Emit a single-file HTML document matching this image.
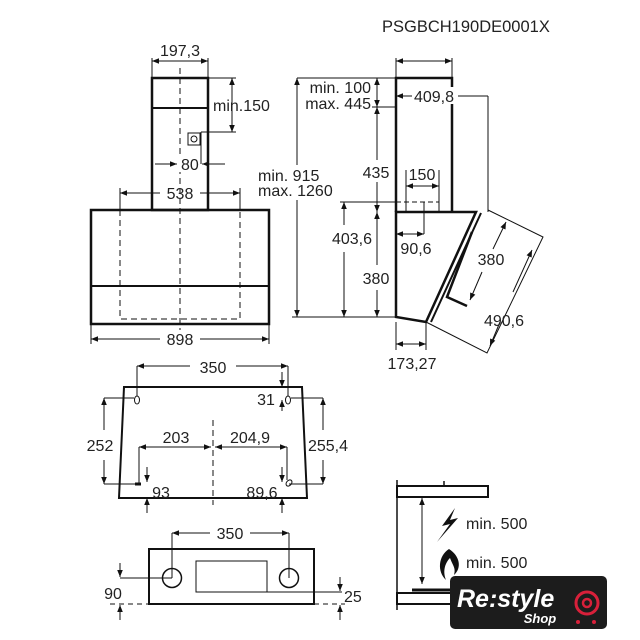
<!DOCTYPE html>
<html><head><meta charset="utf-8"><style>html,body{margin:0;padding:0;background:#fff}svg{display:block}text{font-family:"Liberation Sans",Arial,sans-serif;font-size:16px;fill:#222}</style></head><body>
<svg width="640" height="640" viewBox="0 0 640 640" xmlns="http://www.w3.org/2000/svg">
<defs>
<marker id="a" viewBox="0 0 10 10" refX="10" refY="5" markerWidth="9" markerHeight="7" orient="auto-start-reverse" markerUnits="userSpaceOnUse"><path d="M0,1 L10,5 L0,9z" fill="#111"/></marker>
</defs>
<text x="382" y="32" style="font-size:16.5px">PSGBCH190DE0001X</text>

<!-- FRONT VIEW -->
<g stroke="#111" fill="none">
<rect x="152" y="78" width="56" height="132" stroke-width="2.5"/>
<line x1="152" y1="108" x2="208" y2="108" stroke-width="2"/>
<rect x="91" y="210" width="178" height="114" stroke-width="2.5"/>
<line x1="91" y1="286" x2="269" y2="286" stroke-width="2"/>
<path d="M120,210 V319 H240 V210" stroke-dasharray="6,4" stroke-width="1"/>
<line x1="180" y1="68" x2="180" y2="330" stroke-dasharray="6,4" stroke-width="1"/>
<g stroke-width="1">
<line x1="152" y1="58" x2="152" y2="78"/><line x1="208" y1="58" x2="208" y2="78"/>
<line x1="152" y1="61" x2="208" y2="61" marker-start="url(#a)" marker-end="url(#a)"/>
<line x1="208" y1="78" x2="236" y2="78"/><line x1="201" y1="132" x2="236" y2="132"/>
<line x1="232" y1="78" x2="232" y2="132" marker-start="url(#a)" marker-end="url(#a)"/>
<rect x="188" y="133" width="12" height="12"/><circle cx="194" cy="139" r="3"/>
<line x1="201" y1="132" x2="201" y2="164"/>
<line x1="155" y1="164" x2="177" y2="164" marker-end="url(#a)"/>
<line x1="225" y1="164" x2="202" y2="164" marker-end="url(#a)"/>
<line x1="120" y1="193" x2="160" y2="193" marker-start="url(#a)"/>
<line x1="200" y1="193" x2="240" y2="193" marker-end="url(#a)"/>
<line x1="120" y1="188" x2="120" y2="210"/><line x1="240" y1="188" x2="240" y2="210"/>
<line x1="91" y1="324" x2="91" y2="344"/><line x1="269" y1="324" x2="269" y2="344"/>
<line x1="91" y1="339" x2="160" y2="339" marker-start="url(#a)"/>
<line x1="200" y1="339" x2="269" y2="339" marker-end="url(#a)"/>
</g></g>
<text x="180" y="56" text-anchor="middle">197,3</text>
<text x="213" y="111">min.150</text>
<rect x="179" y="156" width="21" height="16" fill="#fff"/>
<text x="181" y="170">80</text>
<text x="180" y="199" text-anchor="middle">538</text>
<text x="180" y="345" text-anchor="middle">898</text>

<!-- SIDE VIEW -->
<g stroke="#111" fill="none">
<path d="M396,212 V78 H452 V212" stroke-width="2.5"/>
<path d="M396,212 H476 L426,322 L396,317 Z" stroke-width="2.5"/>
<line x1="481" y1="213" x2="431" y2="322" stroke-width="2"/>
<path d="M472,232 L447,297 L467,306" stroke-width="2.5"/>
<g stroke-width="1">
<line x1="396" y1="58" x2="396" y2="78"/><line x1="452" y1="58" x2="452" y2="78"/>
<line x1="396" y1="61" x2="452" y2="61" marker-start="url(#a)" marker-end="url(#a)"/>
<line x1="297" y1="78" x2="396" y2="78"/><line x1="372" y1="107" x2="396" y2="107"/>
<line x1="377" y1="78" x2="377" y2="107" marker-start="url(#a)" marker-end="url(#a)"/>
<line x1="297" y1="78" x2="297" y2="165" marker-start="url(#a)"/>
<line x1="297" y1="200" x2="297" y2="317" marker-end="url(#a)"/>
<line x1="292" y1="317" x2="396" y2="317"/>
<line x1="377" y1="107" x2="377" y2="160" marker-start="url(#a)"/>
<line x1="377" y1="182" x2="377" y2="212" marker-end="url(#a)"/>
<line x1="377" y1="212" x2="377" y2="265" marker-start="url(#a)"/>
<line x1="377" y1="290" x2="377" y2="317" marker-end="url(#a)"/>
<line x1="396" y1="96" x2="412" y2="96" marker-start="url(#a)"/>
<line x1="458" y1="96" x2="488" y2="96"/>
<line x1="488" y1="96" x2="488" y2="212"/>
<line x1="406" y1="170" x2="406" y2="212"/><line x1="439" y1="170" x2="439" y2="212"/>
<line x1="406" y1="186" x2="439" y2="186" marker-start="url(#a)" marker-end="url(#a)"/>
<line x1="396" y1="202" x2="439" y2="202" stroke-dasharray="5,3"/>
<line x1="340" y1="202" x2="396" y2="202"/>
<line x1="344" y1="202" x2="344" y2="225" marker-start="url(#a)"/>
<line x1="344" y1="252" x2="344" y2="317" marker-end="url(#a)"/>
<line x1="424" y1="202" x2="424" y2="234"/>
<line x1="396" y1="234" x2="424" y2="234" marker-start="url(#a)" marker-end="url(#a)"/>
<line x1="396" y1="322" x2="396" y2="350"/><line x1="426" y1="322" x2="426" y2="350"/>
<line x1="396" y1="344" x2="426" y2="344" marker-start="url(#a)" marker-end="url(#a)"/>
<path d="M488,210 L543,237 L487,353 L426,322"/>
<line x1="506" y1="222" x2="493" y2="249" marker-start="url(#a)"/>
<line x1="482" y1="272" x2="470" y2="300" marker-end="url(#a)"/>
<line x1="532" y1="250" x2="513" y2="292" marker-start="url(#a)"/>
<line x1="500" y1="322" x2="490" y2="346" marker-end="url(#a)"/>
</g></g>
<g text-anchor="end"><text x="371" y="93">min. 100</text><text x="371" y="109">max. 445</text></g>
<rect x="256" y="165" width="88" height="34" fill="#fff"/>
<text x="258" y="181">min. 915</text><text x="258" y="196">max. 1260</text>
<rect x="413" y="87" width="42" height="17" fill="#fff"/>
<text x="434" y="102" text-anchor="middle">409,8</text>
<text x="376" y="178" text-anchor="middle">435</text>
<text x="422" y="180" text-anchor="middle">150</text>
<text x="352" y="244" text-anchor="middle">403,6</text>
<text x="416" y="254" text-anchor="middle">90,6</text>
<text x="376" y="284" text-anchor="middle">380</text>
<text x="491" y="265" text-anchor="middle">380</text>
<text x="504" y="326" text-anchor="middle">490,6</text>
<text x="412" y="369" text-anchor="middle">173,27</text>

<!-- WALL PLAN -->
<g stroke="#111" fill="none">
<path d="M124,387 H302 L307,498 H119 Z" stroke-width="2"/>
<g stroke-width="1">
<line x1="213" y1="420" x2="213" y2="505" stroke-dasharray="6,4"/>
<ellipse cx="137" cy="400" rx="2.5" ry="4"/><ellipse cx="288" cy="400" rx="2.5" ry="4"/>
<line x1="137" y1="366" x2="137" y2="396"/><line x1="288" y1="366" x2="288" y2="396"/>
<line x1="137" y1="366" x2="190" y2="366" marker-start="url(#a)"/>
<line x1="236" y1="366" x2="288" y2="366" marker-end="url(#a)"/>
<line x1="282" y1="372" x2="282" y2="387" marker-end="url(#a)"/>
<line x1="282" y1="411" x2="282" y2="400" marker-end="url(#a)"/>
<line x1="104" y1="398" x2="134" y2="398"/><line x1="104" y1="484" x2="139" y2="484"/>
<line x1="104" y1="398" x2="104" y2="430" marker-start="url(#a)"/>
<line x1="104" y1="460" x2="104" y2="484" marker-end="url(#a)"/>
<line x1="291" y1="398" x2="323" y2="398"/><line x1="289" y1="484" x2="323" y2="484"/>
<line x1="323" y1="398" x2="323" y2="430" marker-start="url(#a)"/>
<line x1="323" y1="460" x2="323" y2="484" marker-end="url(#a)"/>
<line x1="139" y1="447" x2="139" y2="484"/><line x1="287" y1="447" x2="287" y2="480"/>
<line x1="139" y1="447" x2="211" y2="447" marker-start="url(#a)" marker-end="url(#a)"/>
<line x1="215" y1="447" x2="287" y2="447" marker-start="url(#a)" marker-end="url(#a)"/>
<line x1="147" y1="467" x2="147" y2="482" marker-end="url(#a)"/>
<line x1="147" y1="513" x2="147" y2="498" marker-end="url(#a)"/>
<line x1="282" y1="467" x2="282" y2="482" marker-end="url(#a)"/>
<line x1="282" y1="513" x2="282" y2="498" marker-end="url(#a)"/>
</g>
<line x1="135" y1="484" x2="141" y2="484" stroke-width="3"/>
<ellipse cx="289" cy="483" rx="2.5" ry="3.5" transform="rotate(40 289 483)"/>
</g>
<text x="213" y="373" text-anchor="middle">350</text>
<text x="266" y="405" text-anchor="middle">31</text>
<text x="100" y="451" text-anchor="middle">252</text>
<text x="328" y="451" text-anchor="middle">255,4</text>
<text x="176" y="443" text-anchor="middle">203</text>
<text x="250" y="443" text-anchor="middle">204,9</text>
<text x="161" y="498" text-anchor="middle">93</text>
<text x="262" y="498" text-anchor="middle">89,6</text>

<!-- BOTTOM PANEL -->
<g stroke="#111" fill="none">
<rect x="149" y="549" width="165" height="55" stroke-width="2"/>
<rect x="196" y="561" width="71" height="31" stroke-width="1"/>
<circle cx="172" cy="578" r="9.5" stroke-width="1.5"/><circle cx="289" cy="578" r="9.5" stroke-width="1.5"/>
<g stroke-width="1">
<line x1="172" y1="533" x2="172" y2="578"/><line x1="289" y1="533" x2="289" y2="578"/>
<line x1="172" y1="533" x2="210" y2="533" marker-start="url(#a)"/>
<line x1="250" y1="533" x2="289" y2="533" marker-end="url(#a)"/>
<line x1="110" y1="604" x2="149" y2="604" stroke-dasharray="5,4"/>
<line x1="314" y1="604" x2="345" y2="604" stroke-dasharray="5,4"/>
<line x1="120" y1="578" x2="172" y2="578"/>
<line x1="120" y1="563" x2="120" y2="577" marker-end="url(#a)"/>
<line x1="120" y1="620" x2="120" y2="605" marker-end="url(#a)"/>
<line x1="267" y1="592" x2="342" y2="592"/>
<line x1="340" y1="577" x2="340" y2="591" marker-end="url(#a)"/>
<line x1="340" y1="620" x2="340" y2="605" marker-end="url(#a)"/>
</g></g>
<text x="230" y="539" text-anchor="middle">350</text>
<text x="113" y="599" text-anchor="middle">90</text>
<text x="344" y="602">25</text>

<!-- CLEARANCE -->
<g stroke="#111" fill="none">
<rect x="397" y="486" width="91" height="11" stroke-width="2"/>
<line x1="397" y1="480" x2="397" y2="610" stroke-width="1.5"/>
<line x1="444" y1="481" x2="444" y2="486" stroke-width="1.5"/>
<line x1="422" y1="498" x2="422" y2="584" stroke-width="1" marker-start="url(#a)" marker-end="url(#a)"/>
<rect x="397" y="593" width="60" height="11" stroke-width="2"/>
<line x1="412" y1="590" x2="450" y2="590" stroke-width="3"/>
</g>
<path d="M455,508 L442,526 L450,524 L437,542 L458,518 L450,520 Z" fill="#111"/>
<path d="M449,549 C438,556 437,572 446,580 C442,570 446,562 450,558 C453,566 456,568 454,575 C462,568 460,556 449,549 Z" fill="#111"/>
<text x="466" y="529">min. 500</text>
<text x="466" y="568">min. 500</text>

<!-- LOGO -->
<rect x="450" y="576" width="157" height="53" rx="5" fill="#1c1c1c"/>
<text x="457" y="607" style="font-size:25px;font-style:italic;font-weight:bold;fill:#fff">Re:style</text>
<text x="540" y="623" style="font-size:13px;font-style:italic;font-weight:bold;fill:#fff" text-anchor="middle">Shop</text>
<circle cx="587" cy="603" r="11" fill="none" stroke="#d8203a" stroke-width="3"/>
<circle cx="587" cy="603" r="4" fill="none" stroke="#d8203a" stroke-width="2.5"/>
<circle cx="578" cy="622" r="2" fill="#d8203a"/><circle cx="594" cy="622" r="2" fill="#d8203a"/>
</svg>
</body></html>
